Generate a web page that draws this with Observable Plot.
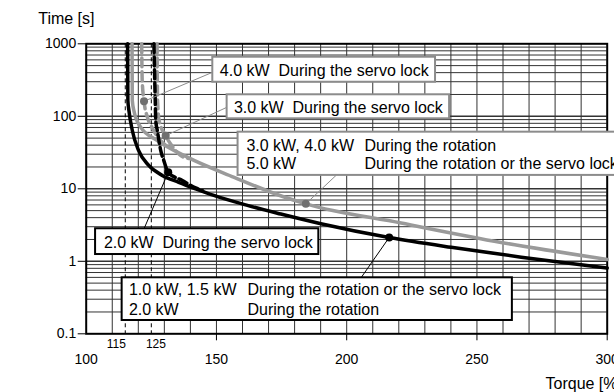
<!DOCTYPE html>
<html><head><meta charset="utf-8">
<script src="https://cdn.jsdelivr.net/npm/d3@7"></script>
<script src="https://cdn.jsdelivr.net/npm/@observablehq/plot@0.6"></script>
<style>
html,body{margin:0;padding:0;background:#fff;overflow:hidden}
svg{display:block}
</style></head><body><div id="chart"></div>
<script>
// ---- Curves (torque %, time s) ----
const blackSolidTorque = [115.9, 116.0, 116.4, 117.7, 120.1, 124.0, 129.2, 135.5, 142.0, 149.0, 161.9, 174.7, 190.1, 216.3, 240.1, 267.0, 300];
const blackSolidTime   = [1000, 165, 120, 63.7, 33.8, 21, 15.3, 12.3, 10, 8.1, 5.9, 4.49, 3.3, 2.13, 1.56, 1.14, 0.81];

const blackDashTorque = [126.0, 126.5, 126.7, 127.3, 128.6, 129.8, 131.5, 136.9, 142.0, 144.7];
const blackDashTime   = [1000, 165, 87.5, 63.7, 33.8, 24.5, 16.9, 13.0, 10.3, 9.4];

const greySolidTorque = [117.6, 117.7, 118.3, 120.9, 127.3, 138.8, 156.8, 176.0, 184.3, 220.9, 259.3, 300];
const greySolidTime   = [1000, 165, 120, 70.8, 46.3, 27.3, 14.4, 7.7, 6.2, 3.37, 1.82, 1.06];

const grey4kwTorque = [121.3, 121.5, 122.2, 123.5, 125.5, 128.6, 132.0];
const grey4kwTime   = [1000, 312, 161, 97, 67.7, 46, 37.5];

const grey3kwTorque = [127.2, 127.4, 128.0, 130.5, 133.2, 136.3, 139.4];
const grey3kwTime   = [1000, 165, 87, 54, 38, 28.8, 26.2];

// ---- Ticks ----
const xTickLabels = [100, 150, 200, 250, 300];
const xTickMarks = [150, 200, 250, 300];
const yTickLabels = [0.1, 1, 10, 100, 1000];
const refTorques = [115, 125];

// ---- Marked points ----
const blackDotTorque = [216.3, 131.5];
const blackDotTime   = [2.13, 16.9];
const greyDotTorque  = [184.3, 130.5, 122.2];
const greyDotTime    = [6.2, 54, 161];

// ---- Annotation boxes ----
const boxX1 = [148.6, 154.1, 158.3, 103.6, 113.8];
const boxX2 = [234.1, 239.5, 320, 189.3, 263.6];
const boxY1 = [295, 92.4, 15.3, 1.24, 0.1526];
const boxY2 = [653, 198, 60.4, 2.81, 0.592];
const boxColor = ["#8c8c8c", "#8c8c8c", "#8c8c8c", "#000", "#000"];

const labelText = ["4.0 kW", "During the servo lock",
  "3.0 kW", "During the servo lock",
  "3.0 kW, 4.0 kW", "During the rotation", "5.0 kW", "During the rotation or the servo lock",
  "2.0 kW", "During the servo lock",
  "1.0 kW, 1.5 kW", "During the rotation or the servo lock", "2.0 kW", "During the rotation"];
const labelTorque = [151.3, 173.8, 156.7, 179.2, 161.5, 206.8, 161.5, 206.8, 106.8, 129.3, 116.4, 161.9, 116.4, 161.9];
const labelTime = [428, 428, 132, 132, 39.6, 39.6, 22.3, 22.3, 1.78, 1.78, 0.404, 0.404, 0.214, 0.214];

// ---- Leader lines ----
const leadX1 = [122.2, 130.5, 184.3, 131.5, 216.3];
const leadY1 = [161, 54, 6.2, 16.9, 2.13];
const leadX2 = [148.6, 154.1, 195.9, 122.2, 205.5];
const leadY2 = [406, 133.6, 15.3, 2.81, 0.592];
const leadColor = ["#8c8c8c", "#8c8c8c", "#8c8c8c", "#000", "#000"];

// ---- build ----
const rows = (xs, ys) => xs.map((x, i) => ({x, y: ys[i]}));
const gridX = d3.range(110, 300, 10);
const gridY = [];
for (const k of [-1, 0, 1, 2]) for (let m = 1; m <= 9; m++) {
  const v = +(m * Math.pow(10, k)).toPrecision(3);
  if (v > 0.1 && v < 1000) gridY.push(v);
}
const boxes = boxX1.map((x1, i) => ({x1, x2: boxX2[i], y1: boxY1[i], y2: boxY2[i], c: boxColor[i]}));
const labels = labelText.map((t, i) => ({t, x: labelTorque[i], y: labelTime[i]}));
const leads = leadX1.map((x1, i) => ({x1, y1: leadY1[i], x2: leadX2[i], y2: leadY2[i], c: leadColor[i]}));
const font = "'Liberation Sans', Arial, Helvetica, sans-serif";

const chart = Plot.plot({
  width: 614, height: 392,
  marginLeft: 85.7, marginRight: 7.3, marginTop: 43.3, marginBottom: 58.7,
  style: {fontFamily: font, fontSize: "14px", background: "#fff", color: "#000"},
  x: {domain: [100, 300], label: null},
  y: {type: "log", domain: [0.1, 1000], label: null},
  marks: [
    Plot.ruleX(gridX, {stroke: "#333", strokeWidth: 1}),
    Plot.ruleY(gridY, {stroke: "#333", strokeWidth: d => (d === 1 || d === 10 || d === 100) ? 1.6 : 1}),
    Plot.ruleX(refTorques, {stroke: "#000", strokeWidth: 1, strokeDasharray: "4,3"}),
    Plot.frame({stroke: "#000", strokeWidth: 2}),
    Plot.axisY({ticks: yTickLabels, tickSize: 8, tickPadding: 2, tickFormat: d => String(d), fontSize: 14, label: null}),
    Plot.axisX({ticks: xTickMarks, tickSize: 7, tickFormat: () => "", label: null}),
    Plot.axisX({ticks: xTickLabels, tickSize: 0, tickPadding: 20, fontSize: 14, label: null}),
    Plot.text([115], {x: d => d, text: d => String(d), frameAnchor: "bottom", dx: -9, dy: 10, fontSize: 12, lineAnchor: "middle"}),
    Plot.text([125], {x: d => d, text: d => String(d), frameAnchor: "bottom", dx: 4.6, dy: 10, fontSize: 12, lineAnchor: "middle"}),
    Plot.line(rows(greySolidTorque, greySolidTime), {x: "x", y: "y", stroke: "#9a9a9a", strokeWidth: 3.5, curve: "monotone-x"}),
    Plot.line(rows(grey4kwTorque, grey4kwTime), {x: "x", y: "y", stroke: "#9a9a9a", strokeWidth: 3.5, strokeDasharray: "9,5", curve: "monotone-x"}),
    Plot.line(rows(grey3kwTorque, grey3kwTime), {x: "x", y: "y", stroke: "#9a9a9a", strokeWidth: 3.5, strokeDasharray: "9,5", curve: "monotone-x"}),
    Plot.line(rows(blackDashTorque, blackDashTime), {x: "x", y: "y", stroke: "#000", strokeWidth: 3.5, strokeDasharray: "9,4", curve: "monotone-x"}),
    Plot.line(rows(blackSolidTorque, blackSolidTime), {x: "x", y: "y", stroke: "#000", strokeWidth: 3.5, curve: "monotone-x"}),
    Plot.link(leads, {x1: "x1", y1: "y1", x2: "x2", y2: "y2", stroke: "c", strokeWidth: 1}),
    Plot.dot(rows(greyDotTorque, greyDotTime), {x: "x", y: "y", r: 4, fill: "#707070", stroke: "none"}),
    Plot.dot(rows(blackDotTorque, blackDotTime), {x: "x", y: "y", r: 4, fill: "#000", stroke: "none"}),
    Plot.rect(boxes, {x1: "x1", x2: "x2", y1: "y1", y2: "y2", fill: "#fff", stroke: "c", strokeWidth: 2}),
    Plot.text(labels, {x: "x", y: "y", text: "t", textAnchor: "start", lineAnchor: "middle", fontSize: 16, fill: "#000"}),
    Plot.text(["Time [s]"], {frameAnchor: "top-left", dx: -48, dy: -25, textAnchor: "start", lineAnchor: "middle", fontSize: 16}),
    Plot.text(["Torque [%]"], {frameAnchor: "bottom-right", dx: -61.7, dy: 49.7, textAnchor: "start", lineAnchor: "middle", fontSize: 16})
  ]
});
document.getElementById("chart").appendChild(chart);
</script>
</body></html>
